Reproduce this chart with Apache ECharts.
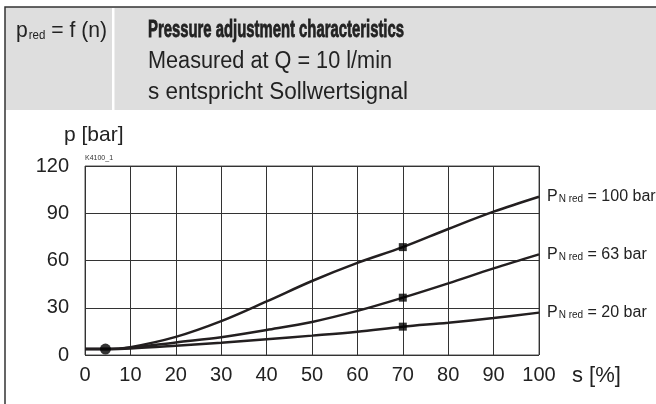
<!DOCTYPE html>
<html><head><meta charset="utf-8">
<script src="https://cdn.jsdelivr.net/npm/echarts@6/dist/echarts.min.js"></script>
<style>html,body{margin:0;padding:0;background:#fff}#c{width:656px;height:404px}</style>
</head><body><div id="c"></div>
<script>
const sValues = [0, 5, 10, 20, 30, 40, 50, 60, 70, 80, 90, 100];
const p100 = [3.8, 3.8, 5, 11.5, 21.5, 34, 47, 58.5, 68.5, 80, 91, 100.5];
const p63  = [3.8, 3.8, 4.6, 8, 11.2, 15.9, 21, 28, 36.4, 45.5, 55, 63.9];
const p20  = [3.8, 3.8, 4.2, 5.9, 7.8, 10, 12.3, 14.8, 18, 20.5, 23.5, 26.9];
const seriesNames = ['100 bar', '63 bar', '20 bar'];
const squareMarks = [[70, 68.5], [70, 36.4], [70, 18]];
const circleMark = [[4.5, 3.8]];
const xTicks = [0,10,20,30,40,50,60,70,80,90,100];
const yTicks = [0,30,60,90,120];

const chart = echarts.init(document.getElementById('c'), null, {renderer:'canvas'});
const ink = '#231f20';
const font = '"Liberation Sans", Arial, sans-serif';

// horizontal squeeze for condensed header font
const mc = document.createElement('canvas').getContext('2d');
function mw(text, size, weight){
  mc.font = (weight||'normal') + ' ' + size + 'px "Liberation Sans"';
  return mc.measureText(text).width;
}
function hText(x, y, text, size, weight, target, heavy){
  const sx = target / mw(text, size, weight);
  const st = {text:text, fontSize:size, fontWeight:weight||'normal', fontFamily:font, fill:'#222'};
  if (heavy) { st.stroke = '#222'; st.lineWidth = 0.8; }
  return {type:'text', x:x, y:y, scaleX:sx, style:st};
}

function zip(ys){ return sValues.map((s,i)=>[s, ys[i]]); }
function lineSeries(name, ys){
  return {
    type:'line', name, data: zip(ys), smooth: 0.35, showSymbol:false, symbol:'none',
    lineStyle:{color:ink, width:2.5}, z:5,
    endLabel:{show:true, distance:8, color:'#222',
      formatter:()=>'{p|P}{s|N red}{t| = '+name+'}',
      rich:{p:{fontSize:16,fontFamily:font,color:'#222'},
            s:{fontSize:10,fontFamily:font,color:'#222',verticalAlign:'bottom',padding:[6,0,0,1]},
            t:{fontSize:16,fontFamily:font,color:'#222'}}}
  };
}
const t1 = 'Pressure adjustment characteristics';
const t2 = 'Measured at Q = 10 l/min';
const t3 = 's entspricht Sollwertsignal';
const pW = mw('p', 22) + mw('red', 12) + 1 + mw(' = f (n)', 22);
const pSx = 91 / pW;
chart.setOption({
  animation:false,
  backgroundColor:'#fff',
  grid:{left:85, right:117, top:166, bottom:49, show:true, borderColor:'#555', borderWidth:1},
  xAxis:{type:'value', min:0, max:100, interval:10,
    axisLine:{show:false}, axisTick:{show:false},
    splitLine:{show:true, lineStyle:{color:'#333', width:1}},
    axisLabel:{fontSize:20, color:'#222', fontFamily:font, margin:10,
      formatter:v=>xTicks.includes(v)?String(v):''}},
  yAxis:{type:'value', min:0, max:120, interval:30,
    axisLine:{show:false}, axisTick:{show:false},
    splitLine:{show:true, lineStyle:{color:'#333', width:1}},
    axisLabel:{fontSize:20, color:'#222', fontFamily:font, margin:16,
      formatter:v=>yTicks.includes(v)?String(v):''}},
  graphic:[
    {type:'rect', shape:{x:5, y:7, width:660, height:103}, style:{fill:'#dedede'}, z:-2},
    {type:'rect', shape:{x:5, y:7, width:660, height:420}, style:{fill:'none', stroke:'#333', lineWidth:1.5}, z:-1},
    {type:'rect', shape:{x:112, y:8, width:2.5, height:102}, style:{fill:'#fff'}},
    {type:'text', x:16, y:20, scaleX:pSx, style:{text:'{a|p}{b|red}{a| = f (n)}', rich:{
      a:{fontSize:22, fontFamily:font, fill:'#222'},
      b:{fontSize:12, fontFamily:font, fill:'#222', verticalAlign:'bottom', padding:[10,0,0,1]}}}},
    hText(148, 18, t1, 24, 'bold', 256, true),
    hText(148, 50, t2, 23, 'normal', 244),
    hText(148, 81, t3, 23, 'normal', 260),
    {type:'text', left:64, top:125, style:{text:'p [bar]', fontSize:21, fontFamily:font, fill:'#222'}},
    {type:'text', left:85, top:155, style:{text:'K4100_1', fontSize:7, fontFamily:font, fill:'#333'}},
    {type:'text', left:572, top:365, style:{text:'s [%]', fontSize:22, fontFamily:font, fill:'#222'}}
  ],
  series:[
    lineSeries(seriesNames[0], p100),
    lineSeries(seriesNames[1], p63),
    lineSeries(seriesNames[2], p20),
    {type:'scatter', data:squareMarks, symbol:'rect', symbolSize:8, itemStyle:{color:'#000'}, z:6},
    {type:'scatter', data:circleMark, symbol:'circle', symbolSize:11, itemStyle:{color:'#000'}, z:6}
  ]
});
</script></body></html>
